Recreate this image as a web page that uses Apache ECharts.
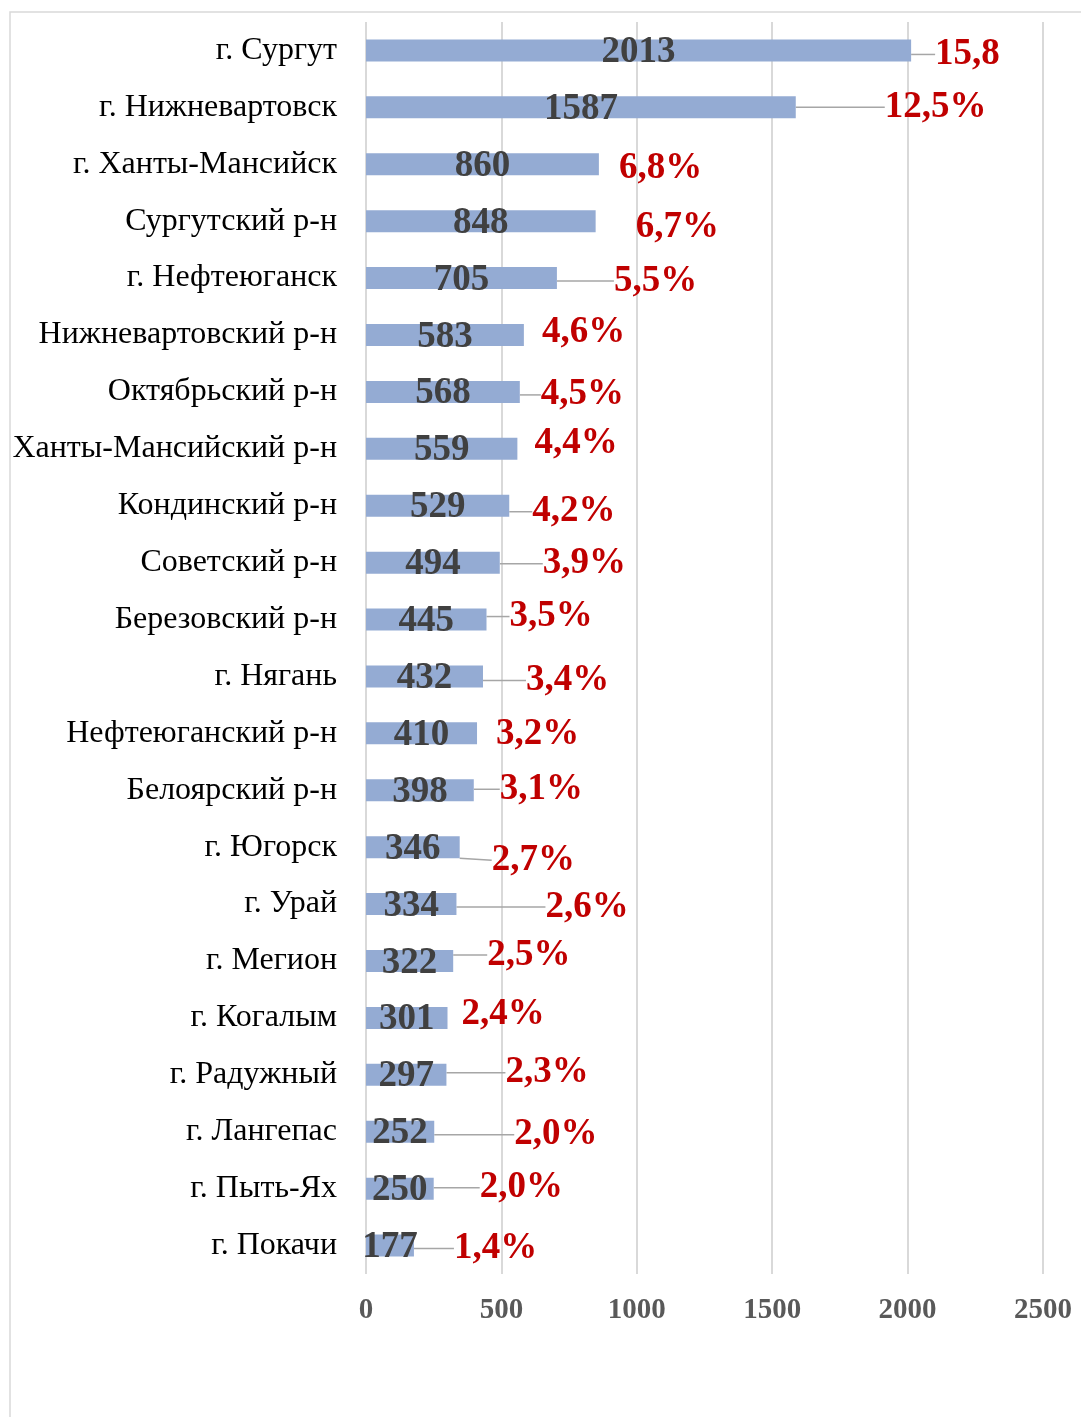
<!DOCTYPE html>
<html><head><meta charset="utf-8">
<script src="https://cdn.jsdelivr.net/npm/echarts@6/dist/echarts.min.js"></script>
<style>html,body{margin:0;padding:0;background:#fff}#c{width:1081px;height:1417px}</style>
</head><body><div id="c"></div>
<script>
const categories = ['г. Сургут','г. Нижневартовск','г. Ханты-Мансийск','Сургутский р-н','г. Нефтеюганск','Нижневартовский р-н','Октябрьский р-н','Ханты-Мансийский р-н','Кондинский р-н','Советский р-н','Березовский р-н','г. Нягань','Нефтеюганский р-н','Белоярский р-н','г. Югорск','г. Урай','г. Мегион','г. Когалым','г. Радужный','г. Лангепас','г. Пыть-Ях','г. Покачи'];
const counts = [2013,1587,860,848,705,583,568,559,529,494,445,432,410,398,346,334,322,301,297,252,250,177];
const shares = ['15,8','12,5%','6,8%','6,7%','5,5%','4,6%','4,5%','4,4%','4,2%','3,9%','3,5%','3,4%','3,2%','3,1%','2,7%','2,6%','2,5%','2,4%','2,3%','2,0%','2,0%','1,4%'];
const xTicks = [0,500,1000,1500,2000,2500];

// label offsets (style): dx, dy from default right-side position
const labelDx = [19,84,15,35,52,13,16,12,18,38,18,38,14,21,27,84,29,9,54,75,41,35];
const labelDy = [2,-2,2,4,1,-5,1,-7,4,-1,-5,2,-1,-3,11,1,-8,-5,-4,1,-3,1];
const showLine = [1,1,0,0,1,0,1,0,1,1,1,1,0,1,1,1,1,0,1,1,1,1];

const serif = "'Liberation Serif','Times New Roman',serif";
const chart = echarts.init(document.getElementById('c'), null, {renderer:'canvas'});
chart.setOption({
  backgroundColor:'#fff',
  animation:false,
  graphic:[{type:'rect',shape:{x:10,y:12,width:1200,height:1500},style:{fill:'none',stroke:'#d9d9d9',lineWidth:1.5},silent:true}],
  grid:{left:366,right:38,top:22,bottom:143,containLabel:false},
  xAxis:{type:'value',min:0,max:2500,interval:500,
    axisLine:{show:false},axisTick:{show:false},
    splitLine:{show:true,lineStyle:{color:'#d9d9d9',width:2}},
    axisLabel:{margin:22,color:'#595959',fontFamily:serif,fontWeight:'bold',fontSize:29,
      formatter:v=>xTicks.includes(v)?String(v):''}},
  yAxis:{type:'category',data:categories,inverse:true,
    axisLine:{show:false},axisTick:{show:false},
    axisLabel:{margin:29,color:'#000',fontFamily:serif,fontSize:32,padding:[5,0,0,0]}},
  series:[
    {type:'bar',data:counts,barWidth:22,z:3,
      itemStyle:{color:'#94abd3'},
      label:{show:true,position:'inside',offset:[0,2],color:'#404040',fontFamily:serif,fontWeight:'bold',fontSize:37}},
    {type:'bar',data:counts.map((v,i)=>({value:v,labelLine:{show:!!showLine[i]}})),barWidth:22,barGap:'-100%',z:2,silent:true,
      itemStyle:{color:'rgba(0,0,0,0)'},
      label:{show:true,position:'right',distance:5,color:'#c00000',fontFamily:serif,fontWeight:'bold',fontSize:37,
        formatter:p=>shares[p.dataIndex]},
      labelLine:{show:true,lineStyle:{color:'#a6a6a6',width:1.5}},
      labelLayout:p=>({dx:labelDx[p.dataIndex],dy:labelDy[p.dataIndex]+2})}
  ]
});
</script></body></html>
